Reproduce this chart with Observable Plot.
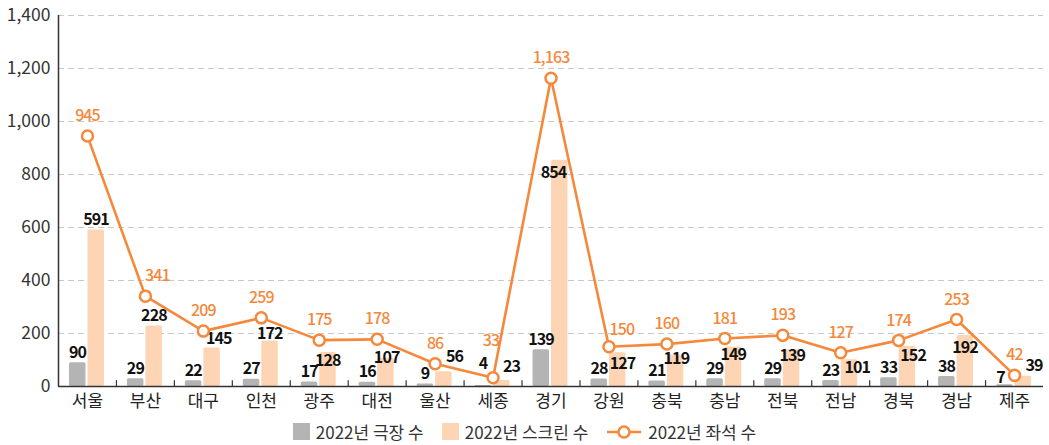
<!DOCTYPE html>
<html>
<head>
<meta charset="utf-8">
<script src="https://cdn.jsdelivr.net/npm/d3@7"></script>
<script src="https://cdn.jsdelivr.net/npm/@observablehq/plot@0.6"></script>
<style>
  body { margin: 0; background: #fff; font-family: "Noto Sans CJK KR", "Noto Sans", sans-serif; }
  #legend { display: flex; justify-content: center; align-items: center; height: 27px; font-size: 17px; color: #333; }
  .item { display: flex; align-items: center; margin: 0 9px; }
  .sw { width: 17px; height: 17px; margin-right: 6px; }
</style>
</head>
<body>
<div id="chart"></div>
<div id="legend"></div>
<script>
const regions = ["서울","부산","대구","인천","광주","대전","울산","세종","경기","강원","충북","충남","전북","전남","경북","경남","제주"];
const theaters = [90,29,22,27,17,16,9,4,139,28,21,29,29,23,33,38,7];
const screens = [591,228,145,172,128,107,56,23,854,127,119,149,139,101,152,192,39];
const seats = [945,341,209,259,175,178,86,33,1163,150,160,181,193,127,174,253,42];
const yTicks = [0,200,400,600,800,1000,1200,1400];
const seriesNames = ["2022년 극장 수","2022년 스크린 수","2022년 좌석 수"];

// label nudges (pixels) used to keep value labels clear of the line, as in the original
const nudges = {
  theaters: {"세종": [0, -22], "제주": [-4, -7]},
  screens: {"대구": [7, -9], "인천": [0, -7], "광주": [0, 8], "대전": [1, 0], "울산": [11, -15], "세종": [10, -14],
            "경기": [-6, 13], "강원": [5, 11], "충북": [1, 4], "충남": [0, 8], "전북": [1, 6], "전남": [8, 8],
            "경북": [6, 10], "경남": [0, 12], "제주": [11, -10]},
  seats: {"부산": [12, -20], "강원": [13, -17], "세종": [-2, -37]}
};
const defaults = {theaters: [0, -10], screens: [0, -10], seats: [0, -20]};
const nd = (key, r) => nudges[key][r] || defaults[key];

const gray = "#B4B4B4", peach = "#FDD5B4", orange = "#F5883A";
const data = regions.map((r, i) => ({region: r, theaters: theaters[i], screens: screens[i], seats: seats[i]}));

const W = 1049, H = 418, mL = 58, mR = 6, mT = 15, mB = 32;
const step = (W - mL - mR) / regions.length;
const half = step / 2;
const font = '"Noto Sans CJK KR", "Noto Sans", sans-serif';

function labels(key, opts) {
  return data.map(d => {
    const [dx, dy] = nd(key, d.region);
    return Plot.text([d], {x: "region", y: key, text: dd => d3.format(",")(dd[key]), dx: opts.dx + dx, dy, ...opts.style});
  });
}

const chart = Plot.plot({
  width: W, height: H,
  marginLeft: mL, marginRight: mR, marginTop: mT, marginBottom: mB,
  style: {fontFamily: font, background: "#fff"},
  x: {type: "band", domain: regions, padding: 0, round: false},
  y: {domain: [0, 1400]},
  marks: [
    Plot.gridY(yTicks.filter(d => d > 0), {stroke: "#c8c8c8", strokeOpacity: 1, strokeDasharray: "6,4"}),
    Plot.barY(data, {x: "region", y: "theaters", fill: gray, insetLeft: half - 18, insetRight: half + 1.5, rx: 1.5}),
    Plot.barY(data, {x: "region", y: "screens", fill: peach, insetLeft: half + 0.5, insetRight: half - 17, rx: 1.5}),
    Plot.ruleX(regions.slice(1), {x: d => d, y1: 0, y2: 22, dx: -half, stroke: "#333", strokeWidth: 1.2}),
    Plot.ruleY([0], {stroke: "#333", strokeWidth: 1.5}),
    Plot.ruleX([regions[0]], {x: d => d, y1: 0, y2: 1400, dx: -half, stroke: "#333", strokeWidth: 1.5}),
    Plot.axisY({ticks: yTicks, tickFormat: d3.format(","), tickSize: 0, tickPadding: 8, fontSize: 17.5, label: null, color: "#333"}),
    Plot.axisX({tickSize: 0, tickPadding: 8, fontSize: 17, label: null, color: "#222"}),
    ...labels("theaters", {dx: -10, style: {fontSize: 16, fontWeight: "bold", fill: "#111"}}),
    ...labels("screens", {dx: 8.5, style: {fontSize: 16, fontWeight: "bold", fill: "#111"}}),
    Plot.line(data, {x: "region", y: "seats", stroke: orange, strokeWidth: 2.6}),
    Plot.dot(data, {x: "region", y: "seats", r: 5.5, fill: "#fff", stroke: orange, strokeWidth: 2.5}),
    ...labels("seats", {dx: 0, style: {fontSize: 16, fontWeight: 500, fill: orange}})
  ]
});
chart.querySelectorAll('g[font-size="16"]').forEach(g => g.setAttribute("letter-spacing", "-0.9px"));
document.getElementById("chart").appendChild(chart);

const legend = document.getElementById("legend");
const sw = [gray, peach];
seriesNames.forEach((name, i) => {
  const item = document.createElement("div");
  item.className = "item";
  if (i < 2) {
    const s = document.createElement("div");
    s.className = "sw";
    s.style.background = sw[i];
    item.appendChild(s);
  } else {
    const ns = "http://www.w3.org/2000/svg";
    const svg = document.createElementNS(ns, "svg");
    svg.setAttribute("width", 36); svg.setAttribute("height", 16);
    svg.style.marginRight = "6px";
    const ln = document.createElementNS(ns, "line");
    ln.setAttribute("x1", 1); ln.setAttribute("x2", 35); ln.setAttribute("y1", 8); ln.setAttribute("y2", 8);
    ln.setAttribute("stroke", orange); ln.setAttribute("stroke-width", 2.6);
    const c = document.createElementNS(ns, "circle");
    c.setAttribute("cx", 18); c.setAttribute("cy", 8); c.setAttribute("r", 5.5);
    c.setAttribute("fill", "#fff"); c.setAttribute("stroke", orange); c.setAttribute("stroke-width", 2.5);
    svg.appendChild(ln); svg.appendChild(c);
    item.appendChild(svg);
  }
  const t = document.createElement("span");
  t.textContent = name;
  item.appendChild(t);
  legend.appendChild(item);
});
</script>
</body>
</html>
